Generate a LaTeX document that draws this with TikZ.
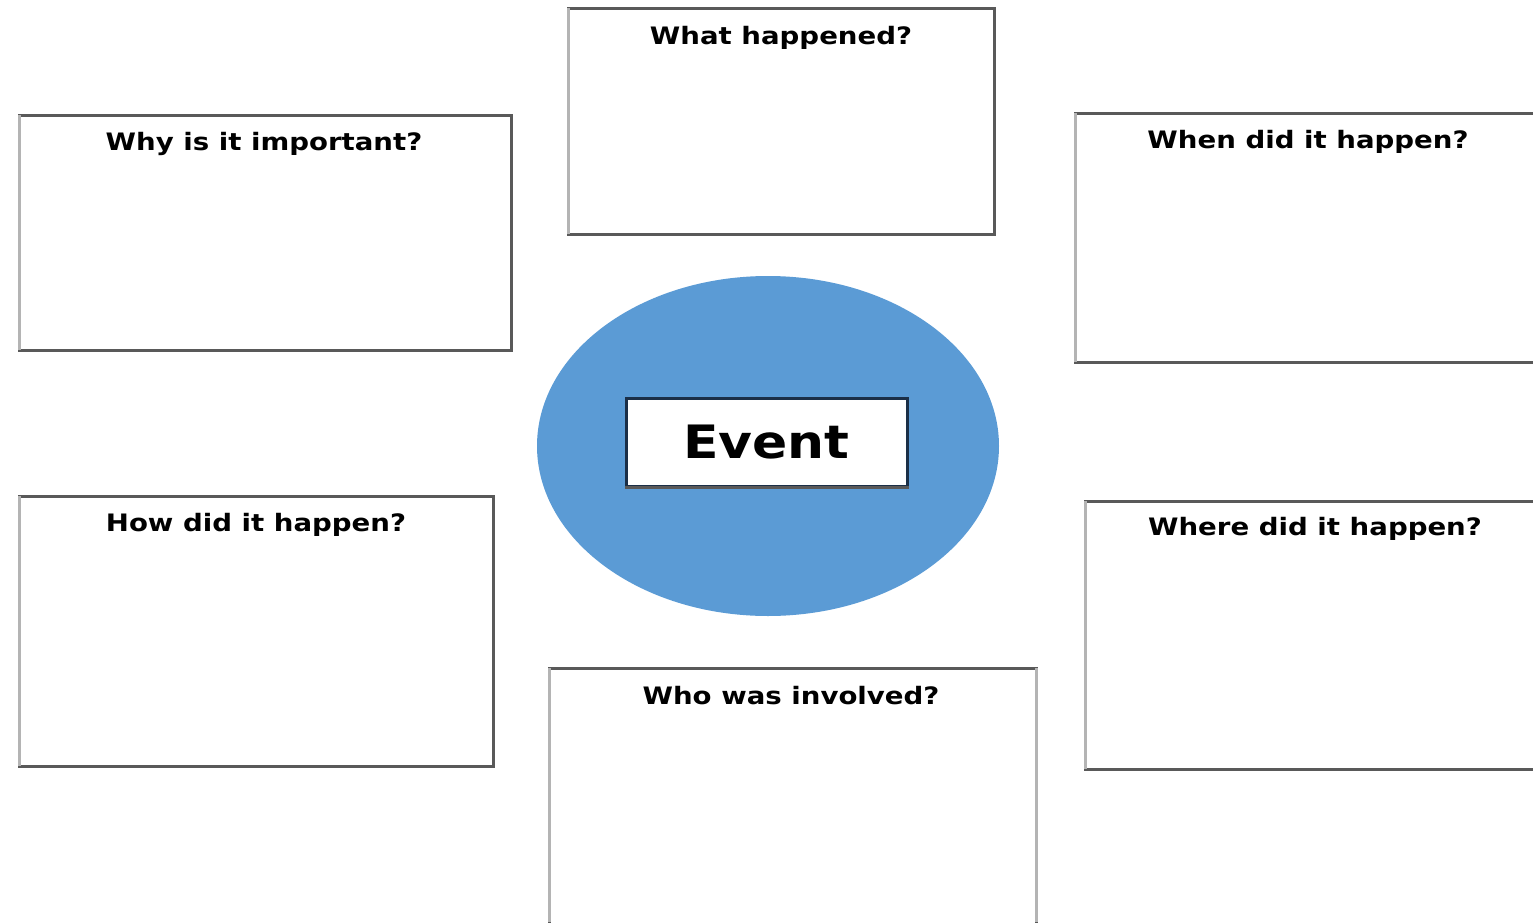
\documentclass[tikz,border=0pt]{standalone}
\usepackage{fontspec}
\usepackage{graphicx}
\setmainfont{DejaVu Sans}
\definecolor{boxdark}{HTML}{595959}
\definecolor{boxlight}{HTML}{B4B4B4}
\definecolor{evblue}{HTML}{5B9BD5}
\definecolor{evnavy}{HTML}{1B2F47}
\newcommand{\wide}[2]{\scalebox{#1}[1]{#2}}
\begin{document}
\begin{tikzpicture}[x=0.5pt,y=-0.5pt,
  qbox/.style={draw=boxdark,line width=1.5pt,fill=white},
  ledge/.style={draw=boxlight,line width=1.5pt},
  qlabel/.style={font=\bfseries\fontsize{12}{14}\selectfont,anchor=center,inner sep=0pt},
]
\useasboundingbox (0,0) rectangle (1533,922);
% boxes
\draw[qbox] (568,8) rectangle (994,234);
\draw[qbox] (19,115) rectangle (511,350);
\draw[qbox] (1075,113) rectangle (1540,362);
\draw[qbox] (19,496) rectangle (493,766);
\draw[qbox] (1085,501) rectangle (1540,769);
\draw[qbox] (549,668) rectangle (1036,940);
% light left edges
\draw[ledge] (568,8) -- (568,234);
\draw[ledge] (19,115) -- (19,350);
\draw[ledge] (1075,113) -- (1075,362);
\draw[ledge] (19,496) -- (19,766);
\draw[ledge] (1085,501) -- (1085,769);
\draw[ledge] (549,668) -- (549,922);
\draw[ledge] (1036,668) -- (1036,922);
% labels
\node[qlabel] (what) at (781,38) {\wide{1.15}{What happened?}};
\node[qlabel] (why) at (264,144) {\wide{1.15}{Why is it important?}};
\node[qlabel] (when) at (1308,142) {\wide{1.15}{When did it happen?}};
\node[qlabel] (how) at (256,525) {\wide{1.15}{How did it happen?}};
\node[qlabel] (where) at (1315,529) {\wide{1.15}{Where did it happen?}};
\node[qlabel] (who) at (791,696) {\wide{1.15}{Who was involved?}};
% central ellipse
\fill[evblue] (768,446) ellipse [x radius=231, y radius=170];
\node[draw=evnavy,line width=1.5pt,fill=white,minimum width=140.5pt,minimum height=44pt,inner sep=0pt,
  font=\bfseries\fontsize{23}{26}\selectfont] (event) at (766.5,442) {\wide{1.13}{Event}};
\draw[boxdark,line width=1.5pt] (event.south west) -- (event.south east);
\end{tikzpicture}
\end{document}
